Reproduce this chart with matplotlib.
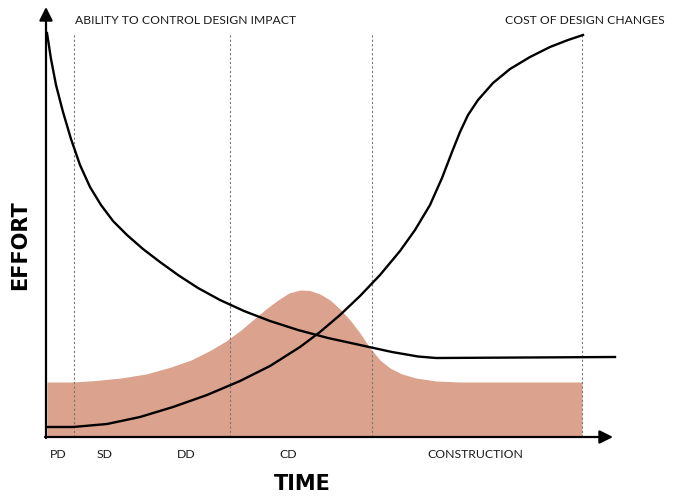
import matplotlib.pyplot as plt
import numpy as np

# units: time = pixels from the effort axis, effort = pixels above the time axis
ability_t = [1, 5, 10, 17, 25, 34, 44, 55, 67, 81, 97, 114, 132, 152, 174, 198,
             224, 252, 282, 314, 346, 372, 390, 569]
ability_e = [404, 378, 352, 325, 298, 272, 250, 232, 216, 202, 188, 175, 162, 149,
             137, 126, 116, 107, 99, 92, 85, 80.5, 79, 80]

cost_t = [1, 27, 61, 94, 127, 161, 194, 224, 254, 274, 294, 314, 334, 354, 369,
          384, 396, 406, 414, 422, 432, 447, 464, 484, 504, 522, 537]
cost_e = [10, 10, 13, 20, 30, 42, 56, 71, 90, 105, 122, 141, 162, 186, 207, 232,
          259, 285, 305, 322, 337, 354, 368, 380, 390, 397, 402]

effort_t = [1, 27, 50, 75, 100, 125, 145, 165, 180, 195, 208, 220, 232, 243, 254,
            264, 274, 284, 294, 304, 314, 324, 334, 344, 356, 370, 390, 414, 536]
effort_e = [55, 55, 56.5, 59, 63, 70, 77, 87, 96, 107, 118, 128, 137, 144, 147,
            146.5, 143, 137, 128, 117, 104, 89, 77, 69, 63, 59, 56, 55, 55]

phase_lines = [28, 184, 326, 536]
phase_names = ['PD', 'SD', 'DD', 'CD', 'CONSTRUCTION']
phase_pos = [12, 59, 140, 242, 429]

fig = plt.figure(figsize=(6.75, 4.97), dpi=100)
ax = fig.add_axes([0, 0, 1, 1])
ax.set_xlim(-46, 629)
ax.set_ylim(-60, 437)
ax.axis('off')

ax.fill_between(effort_t, 0, effort_e, color='#dba28d', lw=0, zorder=1)

for x in phase_lines:
    ax.plot([x, x], [0, 404], color='#777777', lw=0.8,
            linestyle=(0, (2, 2)), zorder=2)

ax.plot(ability_t, ability_e, color='black', lw=1.7, zorder=3,
        solid_joinstyle='round')
ax.plot(cost_t, cost_e, color='black', lw=1.7, zorder=3,
        solid_joinstyle='round')

# axes with arrows
ax.annotate('', xy=(0, 430), xytext=(0, -1),
            arrowprops=dict(arrowstyle='-|>', color='black', lw=1.6,
                            mutation_scale=20, shrinkA=0, shrinkB=0))
ax.annotate('', xy=(567, 0), xytext=(-1, 0),
            arrowprops=dict(arrowstyle='-|>', color='black', lw=1.6,
                            mutation_scale=20, shrinkA=0, shrinkB=0))

font = 'Lato'
for name, x in zip(phase_names, phase_pos):
    ax.text(x, -18, name, ha='center', va='center', fontsize=8.8,
            family=font, color='#1a1a1a')

ax.text(29, 417, 'ABILITY TO CONTROL DESIGN IMPACT', ha='left', va='center',
        fontsize=8.7, family=font, color='#1a1a1a')
ax.text(619, 417, 'COST OF DESIGN CHANGES', ha='right', va='center',
        fontsize=8.7, family=font, color='#1a1a1a')

ax.text(256, -47, 'TIME', ha='center', va='center', fontsize=15,
        fontweight='bold', family='DejaVu Sans')
ax.text(-26, 192, 'EFFORT', ha='center', va='center', fontsize=15,
        fontweight='bold', rotation=90, family='DejaVu Sans')

fig.savefig('out.png', dpi=100)
